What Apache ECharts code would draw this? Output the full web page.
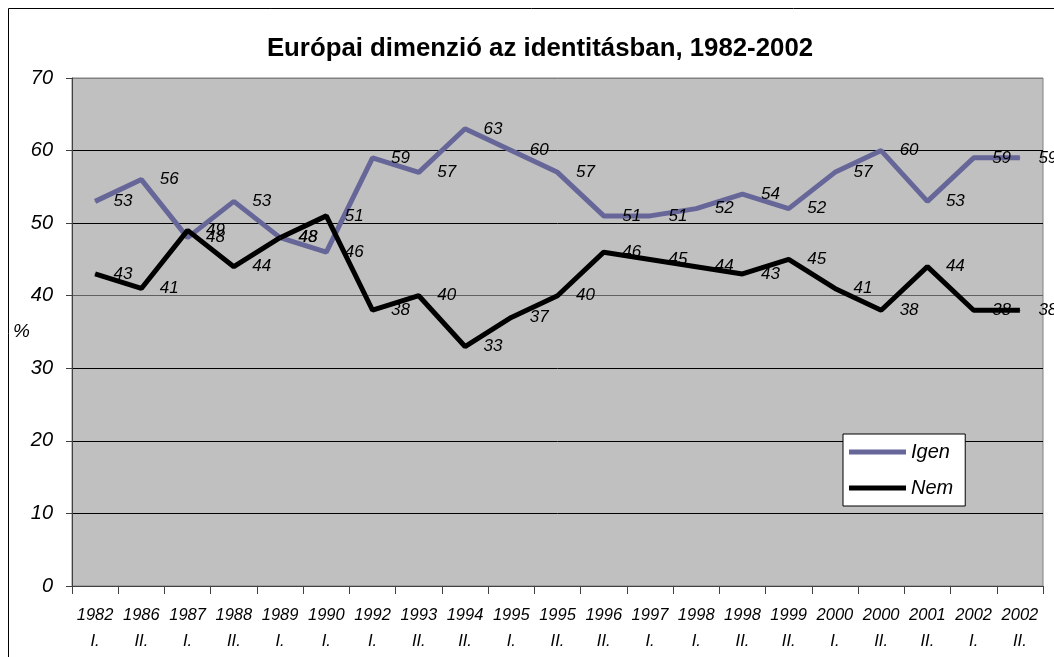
<!DOCTYPE html>
<html>
<head>
<meta charset="utf-8">
<script src="https://cdn.jsdelivr.net/npm/echarts@6/dist/echarts.min.js"></script>
<style>
  html, body { margin: 0; padding: 0; background: #fff; }
  #chart { width: 1054px; height: 657px; }
</style>
</head>
<body>
<div id="chart"></div>
<script>
// időpontok (év + félév)
var categories = ['1982\nI.', '1986\nII.', '1987\nI.', '1988\nII.', '1989\nI.', '1990\nI.', '1992\nI.',
    '1993\nII.', '1994\nII.', '1995\nI.', '1995\nII.', '1996\nII.', '1997\nI.', '1998\nI.',
    '1998\nII.', '1999\nII.', '2000\nI.', '2000\nII.', '2001\nII.', '2002\nI.', '2002\nII.'];
var igen = [53, 56, 48, 53, 48, 46, 59, 57, 63, 60, 57, 51, 51, 52, 54, 52, 57, 60, 53, 59, 59];
var nem = [43, 41, 49, 44, 48, 51, 38, 40, 33, 37, 40, 46, 45, 44, 43, 45, 41, 38, 44, 38, 38];
var yTicks = [0, 70, 10];

var font = 'Liberation Sans, Arial, sans-serif';

function lineSeries(name, data, color) {
    return {
        name: name,
        type: 'line',
        data: data,
        symbol: 'circle',
        symbolSize: 1,
        lineStyle: { color: color, width: 5 },
        itemStyle: { color: color },
        label: {
            show: true,
            position: 'right',
            distance: 18,
            color: '#000',
            fontFamily: font,
            fontStyle: 'italic',
            fontSize: 17
        },
        emphasis: { disabled: true },
        animation: false
    };
}

var myChart = echarts.init(document.getElementById('chart'));
var option = {
    backgroundColor: '#fff',
    graphic: [{
        type: 'rect',
        shape: { x: 8.5, y: 8.5, width: 1080, height: 700 },
        style: { fill: 'none', stroke: '#000', lineWidth: 1 },
        silent: true,
        z: -1
    }],
    title: {
        text: 'Európai dimenzió az identitásban, 1982-2002',
        left: 535,
        top: 31,
        textAlign: 'center',
        textStyle: { fontFamily: font, fontWeight: 'bold', fontSize: 25.8, color: '#000' }
    },
    legend: {
        orient: 'vertical',
        left: 843,
        top: 434,
        backgroundColor: '#fff',
        borderColor: '#000',
        borderWidth: 1,
        borderRadius: 0,
        padding: [8, 12, 8, 6],
        itemWidth: 57,
        itemHeight: 5,
        itemGap: 16,
        icon: 'rect',
        textStyle: { fontFamily: font, fontStyle: 'italic', fontSize: 20, color: '#000' },
        data: ['Igen', 'Nem']
    },
    grid: {
        left: 72,
        right: 11,
        top: 78,
        bottom: 71,
        show: true,
        backgroundColor: '#c0c0c0',
        borderColor: '#808080',
        borderWidth: 1,
        containLabel: false
    },
    xAxis: {
        type: 'category',
        data: categories,
        boundaryGap: true,
        axisLine: { lineStyle: { color: '#404040', width: 1 } },
        axisTick: { show: true, length: 8, lineStyle: { color: '#404040' } },
        axisLabel: {
            interval: 0,
            margin: 16,
            color: '#000',
            fontFamily: font,
            fontStyle: 'italic',
            fontSize: 16.5,
            lineHeight: 26
        }
    },
    yAxis: {
        type: 'value',
        min: yTicks[0],
        max: yTicks[1],
        interval: yTicks[2],
        name: '%',
        nameLocation: 'middle',
        nameRotate: 0,
        nameGap: 42,
        nameMoveOverlap: false,
        nameTextStyle: { fontFamily: font, fontStyle: 'italic', fontSize: 19, color: '#000' },
        axisLine: { show: true, lineStyle: { color: '#404040', width: 1 } },
        axisTick: { show: true, length: 6, lineStyle: { color: '#404040' } },
        axisLabel: {
            margin: 19,
            color: '#000',
            fontFamily: font,
            fontStyle: 'italic',
            fontSize: 20
        },
        splitLine: {
            show: true,
            lineStyle: { color: ['#000', '#000', '#000', '#000', '#606060', '#000', '#000', '#808080'], width: 1 }
        }
    },
    series: [
        lineSeries('Igen', igen, '#666699'),
        lineSeries('Nem', nem, '#000000')
    ],
    animation: false
};
myChart.setOption(option);
</script>
</body>
</html>
